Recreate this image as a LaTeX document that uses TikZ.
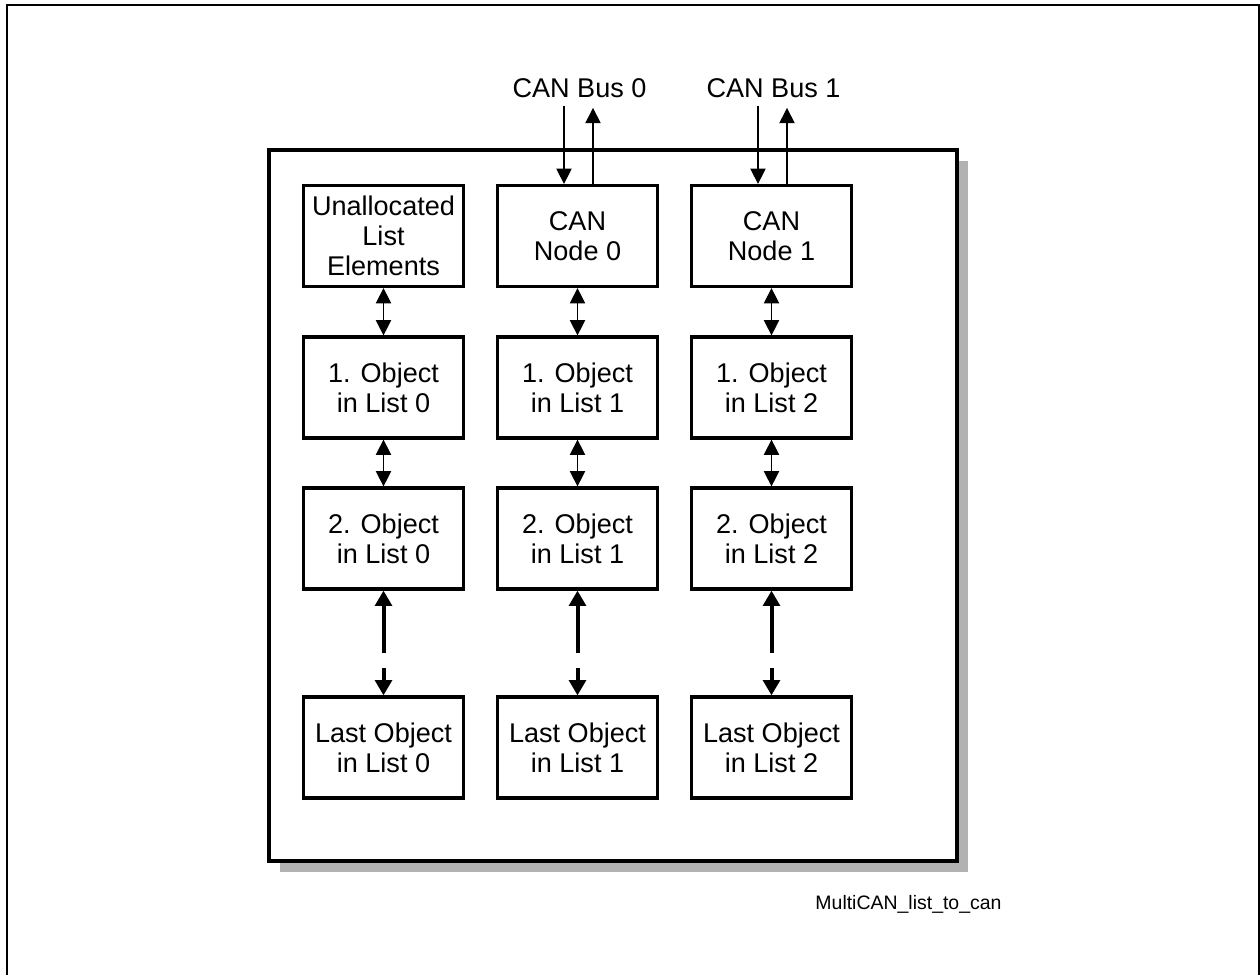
\documentclass[tikz,border=0pt]{standalone}
\usepackage{fontspec}
\setmainfont{Liberation Sans}
\usetikzlibrary{arrows.meta,calc}
\begin{document}
\begin{tikzpicture}[x=0.75pt,y=-0.75pt,
  box/.style={draw,line width=2.4pt,minimum width=120pt,minimum height=75.75pt,align=center,inner sep=0pt,font=\fontsize{20.3}{22.5}\selectfont},
  dbl/.style={line width=0.8pt,{Triangle[width=11.5pt,length=11.5pt]}-{Triangle[width=11.5pt,length=11.5pt]}},
  single/.style={line width=0.8pt,-{Triangle[width=11.5pt,length=11.5pt]}},
  thick arrow/.style={line width=3pt,-{Triangle[width=12.5pt,length=11.5pt]}},
  lbl/.style={font=\fontsize{20.3}{22.5}\selectfont,anchor=base,inner sep=0pt}
]
\useasboundingbox (0,0) rectangle (1260,975);
% outer frame (open at bottom)
\draw[line width=1.5pt] (7,975) -- (7,5) -- (1259,5) -- (1259,975);
% shadow and main box
\fill[black!30] (280,161) rectangle (968,872);
\draw[line width=2.4pt,fill=white] (269,150) rectangle (957,861);
% boxes
\node[box] (u)  at (383.5,236) {Unallocated\\List\\Elements};
\node[box] (n0) at (577.5,236) {CAN\\Node 0};
\node[box] (n1) at (771.5,236) {CAN\\Node 1};
\foreach \c/\x in {0/383.5,1/577.5,2/771.5}{
  \node[box] (a\c) at (\x,387.5) {1. Object\\in List \c};
  \node[box] (b\c) at (\x,538.5) {2. Object\\in List \c};
  \node[box] (l\c) at (\x,747.5) {Last Object\\in List \c};
}
% thin double arrows
\draw[dbl] (u.south) -- (a0.north);
\draw[dbl] (n0.south) -- (a1.north);
\draw[dbl] (n1.south) -- (a2.north);
\foreach \c in {0,1,2}{
  \draw[dbl] (a\c.south) -- (b\c.north);
  \coordinate (up\c) at ($(b\c.south)+(0,62)$);
  \coordinate (dn\c) at ($(l\c.north)+(0,-27)$);
  \draw[thick arrow] (up\c) -- (b\c.south);
  \draw[thick arrow] (dn\c) -- (l\c.north);
}
% CAN buses
\node[lbl] (bus0) at (579.5,97) {CAN Bus 0};
\node[lbl] (bus1) at (773.5,97) {CAN Bus 1};
\coordinate (i0) at ($(n0.north)+(-13.5,-78)$);
\coordinate (o0) at ($(n0.north)+(15.5,-76)$);
\coordinate (i1) at ($(n1.north)+(-13.5,-78)$);
\coordinate (o1) at ($(n1.north)+(15.5,-76)$);
\draw[single] (i0) -- (i0 |- n0.north);
\draw[single] (o0 |- n0.north) -- (o0);
\draw[single] (i1) -- (i1 |- n1.north);
\draw[single] (o1 |- n1.north) -- (o1);
% figure name
\node[font=\fontsize{14.6}{17}\selectfont,anchor=base,inner sep=0pt] (fig) at (908.5,909) {MultiCAN\_list\_to\_can};
\end{tikzpicture}
\end{document}
